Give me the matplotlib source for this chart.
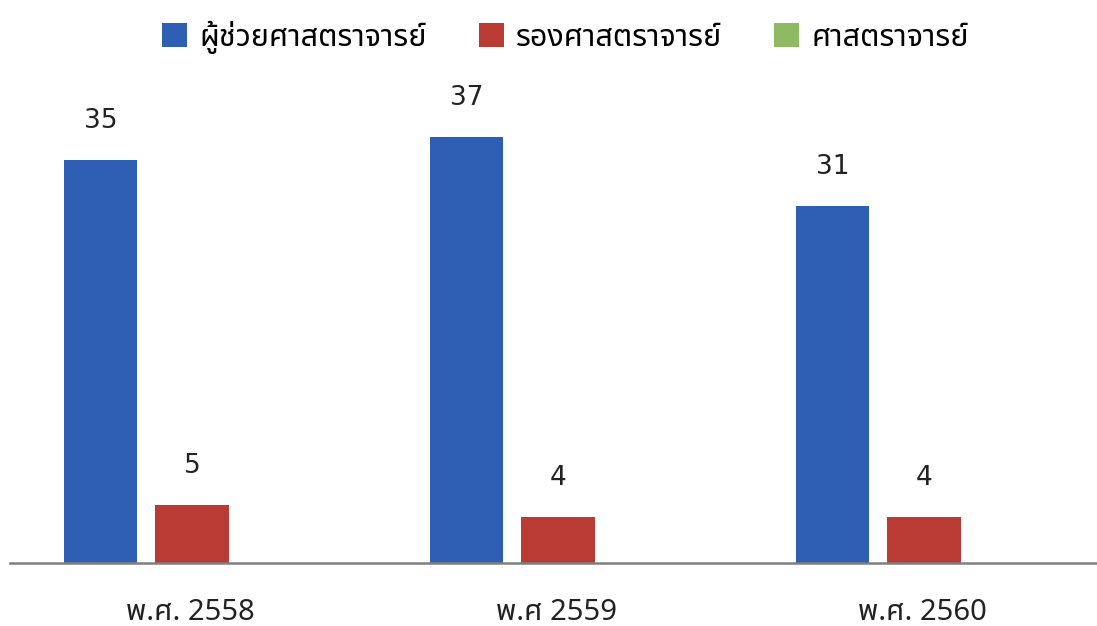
import matplotlib
matplotlib.use("Agg")
import matplotlib.pyplot as plt
from matplotlib import font_manager
from matplotlib.patches import Patch
import numpy as np

# ---- data ----
categories = ["พ.ศ. 2558", "พ.ศ 2559", "พ.ศ. 2560"]
series_names = ["ผู้ช่วยศาสตราจารย์", "รองศาสตราจารย์", "ศาสตราจารย์"]
assistant_prof = [35, 37, 31]
associate_prof = [5, 4, 4]
full_prof = [0, 0, 0]

colors = ["#2F5EB5", "#BA3B34", "#8DBA63"]


def find_thai_font():
    try:
        from fontTools.ttLib import TTFont
    except Exception:
        return None
    found = []
    for f in font_manager.fontManager.ttflist:
        try:
            kw = {"fontNumber": 0} if f.fname.lower().endswith(".ttc") else {}
            tt = TTFont(f.fname, lazy=True, **kw)
            cmap = tt.getBestCmap()
            if cmap and 0x0E28 in cmap and 0x0E1C in cmap and 0x0E4C in cmap:
                found.append(f.name)
        except Exception:
            pass
    pref = ["Tahoma", "Noto Sans Thai", "Noto Sans Thai UI", "Loma", "Garuda",
            "Sarabun", "Leelawadee", "Noto Sans Thai Looped", "Umpush", "Kinnari"]
    for p in pref:
        if p in found:
            return p
    return found[0] if found else None


thai = find_thai_font()
fam = [thai, "DejaVu Sans"] if thai else ["DejaVu Sans"]
plt.rcParams["font.family"] = fam

fig = plt.figure(figsize=(10.97, 6.26), dpi=100)
ax = fig.add_axes([10 / 1097, 63 / 626, 1 - 10 / 1097, 483.4 / 626])

x = np.arange(len(categories))
step = 0.249
width = 0.2
series = [assistant_prof, associate_prof, full_prof]
bars = []
for i, (vals, c) in enumerate(zip(series, colors)):
    b = ax.bar(x + (i - 1) * step, vals, width, color=c, linewidth=0, label=series_names[i])
    bars.append(b)

for b in bars[:2]:
    ax.bar_label(b, padding=19, fontsize=19, color="#222222", family=["DejaVu Sans"])

ax.set_ylim(0, 42)
ax.set_xlim(-(192 - 10) / 366, (1097 - 192) / 366)
for s in ["top", "right", "left"]:
    ax.spines[s].set_visible(False)
ax.spines["bottom"].set_color("#7f7f7f")
ax.spines["bottom"].set_linewidth(1.8)
ax.set_yticks([])
ax.set_xticks(x - 0.005)
ax.set_xticklabels(categories, fontsize=21, color="#222222")
ax.tick_params(axis="x", length=0, pad=25)

handles = [Patch(facecolor=c, edgecolor="none") for c in colors]
fig.legend(handles, series_names, loc="center", bbox_to_anchor=(0.5155, 1 - 37 / 626),
           ncol=3, frameon=False, fontsize=22, handlelength=0.82, handleheight=0.82,
           handletextpad=0.4, columnspacing=1.7, borderpad=0.2)

fig.savefig("out.png", dpi=100, facecolor="white")
